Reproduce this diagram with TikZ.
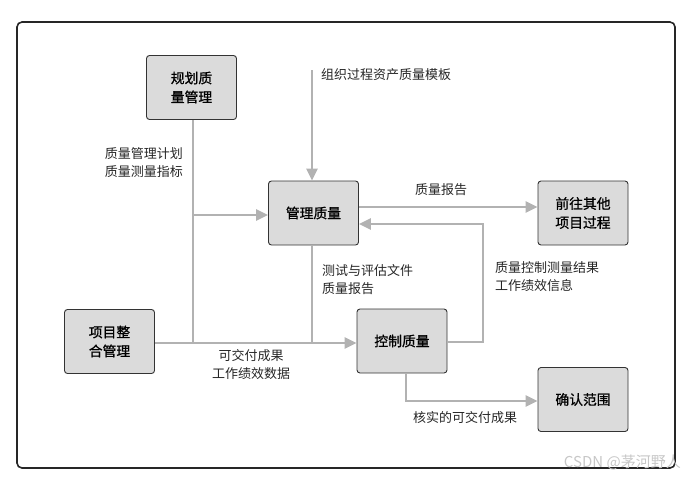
\documentclass[tikz,border=0pt]{standalone}
\usepackage{fontspec}
\setmainfont{Noto Sans CJK SC}
\newfontfamily\cjkbold[FakeBold=0.9]{Noto Sans CJK SC}
\usetikzlibrary{arrows.meta}
\tikzset{
  proc/.style={draw=black!80, line width=0.9pt, fill=black!14, rounded corners=3pt, minimum width=90pt, minimum height=64pt, align=center, font=\cjkbold\fontsize{13.8}{19}\selectfont},
  flow/.style={draw=black!30, line width=2.6pt, -{Triangle[length=12pt,width=11pt]}},
  link/.style={draw=black!30, line width=2.6pt},
  lbl/.style={font=\fontsize{13}{18}\selectfont, text=black!85, align=left, inner sep=0pt},
}
\begin{document}
\begin{tikzpicture}[x=1pt,y=-1pt]
\useasboundingbox (0,0) rectangle (698,480);
\draw[line width=1.6pt, draw=black!85, rounded corners=5pt] (17,22) rectangle (675,468);
\node[proc] (plan) at (191.5,87.5) {规划质\\量管理};
\node[proc] (manage) at (313.5,213) {管理质量};
\node[proc] (other) at (583,213) {前往其他\\项目过程};
\node[proc] (control) at (402,341) {控制质量};
\node[proc] (integ) at (109.5,341.5) {项目整\\合管理};
\node[proc] (scope) at (583,399.5) {确认范围};
\coordinate (org) at (312,70);
\coordinate (j1) at (193,215);
\coordinate (j2) at (193,343);
\coordinate (j3) at (312,343);
\coordinate (r1) at (483,342);
\coordinate (r2) at (483,224);
\coordinate (d1) at (406,401);
% arrows
\draw[flow] (org) -- (manage.north -| org);
\draw[link] (plan.south -| j1) -- (j2);
\draw[flow] (j1) -- (manage.west |- j1);
\draw[flow] (manage.east |- 0,207) -- (other.west |- 0,207);
\draw[link] (manage.south -| j3) -- (j3);
\draw[flow] (integ.east |- j2) -- (control.west |- j2);
\draw[flow] (control.east |- r1) -- (r1) -- (r2) -- (manage.east |- r2);
\draw[flow] (control.south -| d1) -- (d1) -- (scope.west |- d1);
% labels
\node[lbl, anchor=west] (t1) at (321,75) {组织过程资产质量模板};
\node[lbl, anchor=east] (t2) at (183,163) {质量管理计划\\质量测量指标};
\node[lbl] (t3) at (441,190) {质量报告};
\node[lbl, anchor=west] (t4) at (322,280) {测试与评估文件\\质量报告};
\node[lbl, anchor=west] (t5) at (495,277) {质量控制测量结果\\工作绩效信息};
\node[lbl, align=center] (t6) at (251,365) {可交付成果\\工作绩效数据};
\node[lbl] (t7) at (465,418) {核实的可交付成果};
\node[lbl, text=black!22, font=\fontsize{15}{17}\selectfont, anchor=east] (wm) at (681,462) {CSDN @茅河野人};
\end{tikzpicture}
\end{document}
